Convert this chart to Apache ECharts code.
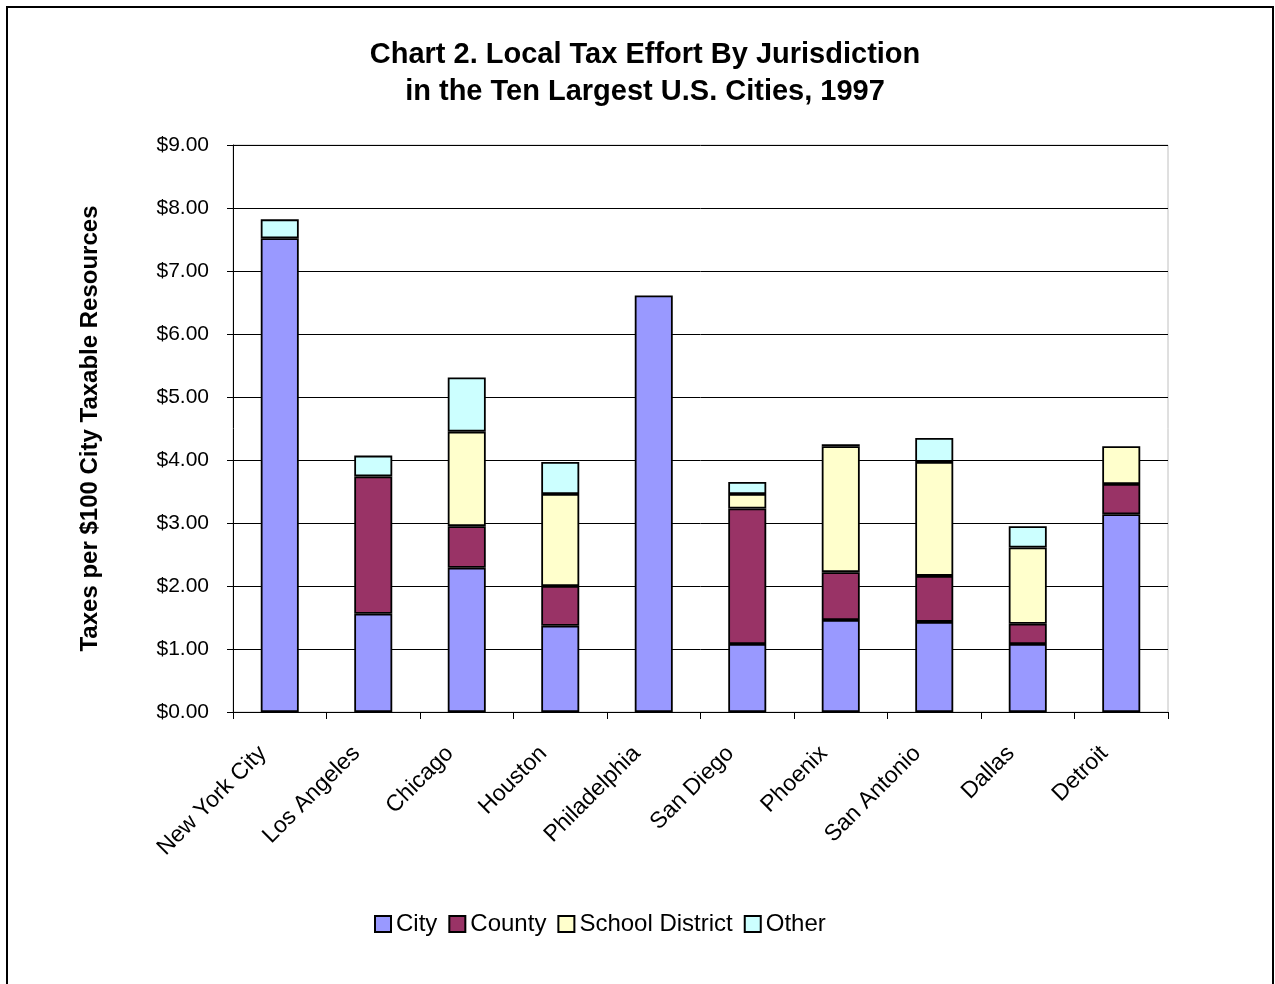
<!DOCTYPE html>
<html>
<head>
<meta charset="utf-8">
<script src="https://cdn.jsdelivr.net/npm/echarts@6/dist/echarts.min.js"></script>
<style>html,body{margin:0;padding:0;background:#fff;}#c{width:1275px;height:984px;}</style>
</head>
<body>
<div id="c"></div>
<script>
const categories = ['New York City','Los Angeles','Chicago','Houston','Philadelphia','San Diego','Phoenix','San Antonio','Dallas','Detroit'];
const city   = [7.52, 1.56, 2.29, 1.37, 6.61, 1.08, 1.46, 1.43, 1.08, 3.14];
const county = [null, 2.18, 0.66, 0.63, null, 2.15, 0.76, 0.73, 0.32, 0.48];
const school = [null, null, 1.50, 1.46, null, 0.23, 2.00, 1.81, 1.21, 0.60];
const other  = [0.30, 0.33, 0.86, 0.51, null, 0.19, 0.03, 0.38, 0.34, null];
const seriesNames = ['City','County','School District','Other'];
const colors = ['#9999ff','#993366','#ffffcc','#ccffff'];
const yTicks = [0,1,2,3,4,5,6,7,8,9];

const font = '"Liberation Sans", Arial, sans-serif';
const chart = echarts.init(document.getElementById('c'));
const mk = (name, data, i) => ({
  name, type:'bar', stack:'t', data, barWidth:38,
  itemStyle:{color:colors[i], borderColor:'#000', borderWidth:1.8},
  emphasis:{disabled:true}
});
chart.setOption({
  animation:false,
  backgroundColor:'#fff',
  textStyle:{fontFamily:font},
  title:{
    text:'Chart 2. Local Tax Effort By Jurisdiction\nin the Ten Largest U.S. Cities, 1997',
    left:640, top:31, textAlign:'center',
    textStyle:{fontFamily:font, fontSize:29, fontWeight:'bold', color:'#000', lineHeight:37}
  },
  graphic:[{type:'rect', shape:{x:7,y:7,width:1266,height:1100}, style:{fill:'none', stroke:'#000', lineWidth:2}, silent:true}],
  legend:{
    data:seriesNames, left:369, top:907, itemWidth:16, itemHeight:16, itemGap:11,
    icon:'rect',
    textStyle:{fontFamily:font, fontSize:24, color:'#000'}
  },
  grid:{left:233, right:107, top:145, bottom:272, show:true, borderColor:'#c0c0c0', borderWidth:1},
  xAxis:{
    type:'category', data:categories,
    axisLine:{lineStyle:{color:'#000', width:1}},
    axisTick:{show:true, alignWithLabel:false, length:7, lineStyle:{color:'#000'}},
    axisLabel:{rotate:45, fontSize:23, color:'#000', fontFamily:font, margin:21, interval:0, padding:[0,24,0,0]}
  },
  yAxis:{
    type:'value', min:0, max:9, interval:1,
    name:'Taxes per $100 City Taxable Resources', nameLocation:'middle', nameGap:131,
    nameTextStyle:{fontFamily:font, fontSize:24, fontWeight:'bold', color:'#000'},
    axisLine:{show:true, lineStyle:{color:'#000', width:1}},
    axisTick:{show:true, length:6, lineStyle:{color:'#000'}},
    splitLine:{show:true, lineStyle:{color:'#000', width:1}},
    axisLabel:{fontSize:21, color:'#000', fontFamily:font, margin:24,
      formatter:v => '$' + v.toFixed(2)}
  },
  series:[mk('City',city,0), mk('County',county,1), mk('School District',school,2), mk('Other',other,3)]
});
</script>
</body>
</html>
